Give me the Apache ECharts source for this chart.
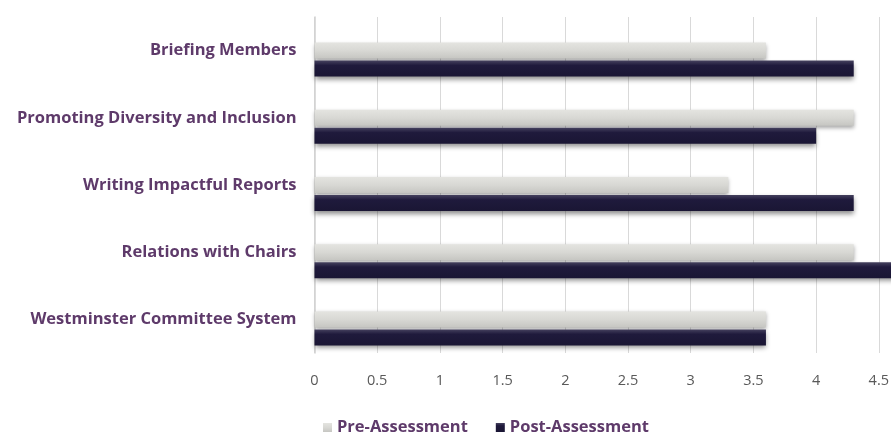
<!DOCTYPE html>
<html>
<head>
<meta charset="utf-8">
<script src="https://cdn.jsdelivr.net/npm/echarts@6/dist/echarts.min.js"></script>
<style>
  html, body { margin: 0; padding: 0; background: #fff; }
  #main { width: 891px; height: 433px; }
</style>
</head>
<body>
<div id="main"></div>
<script>
// categories top to bottom
var categories = ['Briefing Members', 'Promoting Diversity and Inclusion', 'Writing Impactful Reports', 'Relations with Chairs', 'Westminster Committee System'];
var preAssessment = [3.6, 4.3, 3.3, 4.3, 3.6];
var postAssessment = [4.3, 4.0, 4.3, 4.7, 3.6];
var spacer = [0, 0, 0, 0, 0];

var purple = '#5e3a6a';
var chart = echarts.init(document.getElementById('main'));

var option = {
    animation: false,
    legend: {
        data: ['Pre-Assessment', 'Post-Assessment'],
        top: 414,
        left: 318,
        itemWidth: 9,
        itemHeight: 9,
        itemGap: 28,
        icon: 'rect',
        textStyle: { color: purple, fontFamily: 'Open Sans', fontWeight: 'bold', fontSize: 16.5 }
    },
    grid: { left: 314.5, right: -50.5, top: 17, bottom: 80, outerBoundsMode: 'none' },
    xAxis: {
        type: 'value',
        min: 0,
        max: 5,
        interval: 0.5,
        axisLine: { show: false },
        axisTick: { show: false },
        axisLabel: { color: '#595959', fontFamily: 'Open Sans', fontSize: 14.5, margin: 20 },
        splitLine: { lineStyle: { color: '#d9d9d9', width: 1 } }
    },
    yAxis: {
        type: 'category',
        inverse: true,
        data: categories,
        axisLine: { show: true, lineStyle: { color: '#d0d0d0', width: 1.5 } },
        axisTick: { show: false },
        axisLabel: { color: purple, fontFamily: 'Open Sans', fontWeight: 'bold', fontSize: 16.5, margin: 18, padding: [7, 0, 0, 0] }
    },
    series: [
        {
            // empty slot so the bar pair sits below the label like the original
            name: 'spacer',
            type: 'bar',
            barWidth: 16,
            barGap: '12.5%',
            data: spacer,
            itemStyle: { color: 'transparent' },
            silent: true
        },
        {
            name: 'Pre-Assessment',
            type: 'bar',
            barWidth: 16,
            barGap: '12.5%',
            data: preAssessment,
            itemStyle: {
                color: new echarts.graphic.LinearGradient(0, 0, 0, 1, [
                    { offset: 0, color: '#e4e4e0' },
                    { offset: 0.5, color: '#d8d8d4' },
                    { offset: 1, color: '#c6c6c2' }
                ]),
                shadowColor: 'rgba(0,0,0,0.35)',
                shadowBlur: 4,
                shadowOffsetY: 2
            }
        },
        {
            name: 'Post-Assessment',
            type: 'bar',
            barWidth: 16,
            barGap: '12.5%',
            data: postAssessment,
            itemStyle: {
                color: new echarts.graphic.LinearGradient(0, 0, 0, 1, [
                    { offset: 0, color: '#45415e' },
                    { offset: 0.3, color: '#1f1a3c' },
                    { offset: 1, color: '#1a1634' }
                ]),
                shadowColor: 'rgba(0,0,0,0.45)',
                shadowBlur: 5,
                shadowOffsetY: 3
            }
        }
    ]
};

chart.setOption(option);
</script>
</body>
</html>
